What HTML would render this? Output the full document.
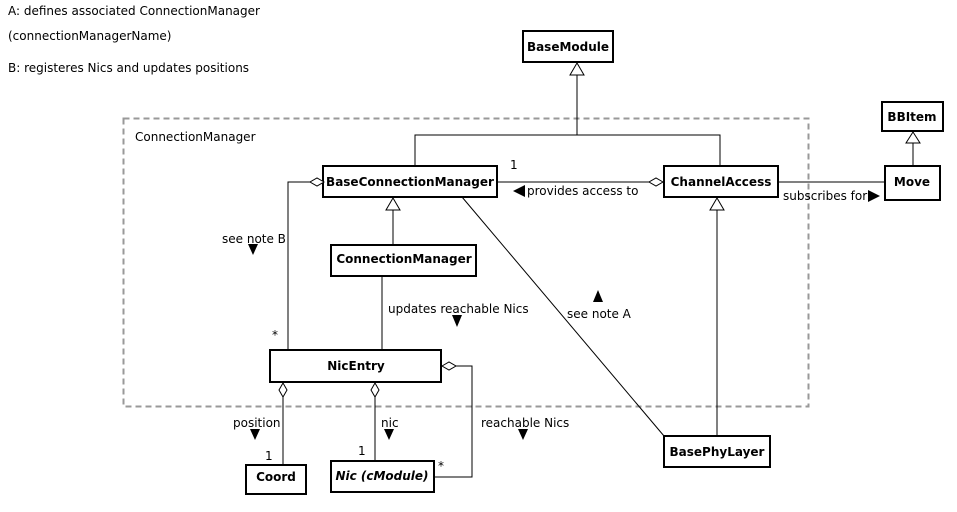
<!DOCTYPE html>
<html><head><style>
body{margin:0;background:#fff;}
svg{display:block;font-family:"DejaVu Sans","Liberation Sans",sans-serif;}
.b{font-weight:bold;font-size:12px;}
.t{font-size:12px;}
</style></head><body>
<svg width="957" height="512" viewBox="0 0 957 512">
<text class="t" x="8" y="15">A: defines associated ConnectionManager</text>
<text class="t" x="8" y="40">(connectionManagerName)</text>
<text class="t" x="8" y="72">B: registeres Nics and updates positions</text>
<rect x="123.5" y="118.5" width="685" height="288" fill="none" stroke="#999" stroke-width="2" stroke-dasharray="6,4"/>
<text class="t" x="135" y="141">ConnectionManager</text>
<g stroke="#000" fill="none" stroke-width="1">
<polyline points="577,62 577,135"/>
<polyline points="415,166 415,135 720,135 720,166"/>
<polyline points="497,182 664,182"/>
<polyline points="778,182 885,182"/>
<polyline points="913,131 913,166"/>
<polyline points="323,182 288,182 288,350"/>
<polyline points="393,197 393,245"/>
<polyline points="382,276 382,350"/>
<polyline points="462,197 664,436"/>
<polyline points="717,197 717,436"/>
<polyline points="283,382 283,465"/>
<polyline points="375,382 375,461"/>
<polyline points="441,366 472,366 472,477 434,477"/>
</g>
<g fill="#fff" stroke="#000" stroke-width="2">
<rect x="523" y="31" width="90" height="31"/>
<rect x="323" y="166" width="174" height="31"/>
<rect x="664" y="166" width="114" height="31"/>
<rect x="882" y="102" width="61" height="29"/>
<rect x="885" y="166" width="55" height="34"/>
<rect x="331" y="245" width="145" height="31"/>
<rect x="270" y="350" width="171" height="32"/>
<rect x="246" y="465" width="60" height="29"/>
<rect x="331" y="461" width="103" height="31"/>
<rect x="664" y="436" width="106" height="31"/>
</g>
<g fill="#fff" stroke="#000">
<polygon points="577,63 570,75 584,75"/>
<polygon points="393,198 386,210 400,210"/>
<polygon points="717,198 710,210 724,210"/>
<polygon points="913,132 906,143 920,143"/>
<polygon points="663,182 656,178 649,182 656,186"/>
<polygon points="324,182 317,178 310,182 317,186"/>
<polygon points="442,366 449,362 456,366 449,370"/>
<polygon points="283,383 279,390 283,397 287,390"/>
<polygon points="375,383 371,390 375,397 379,390"/>
</g>
<text class="b" x="568" y="51" text-anchor="middle">BaseModule</text>
<text class="b" x="410" y="186" text-anchor="middle">BaseConnectionManager</text>
<text class="b" x="721" y="186" text-anchor="middle">ChannelAccess</text>
<text class="b" x="912" y="121" text-anchor="middle">BBItem</text>
<text class="b" x="912" y="186" text-anchor="middle">Move</text>
<text class="b" x="404" y="263" text-anchor="middle">ConnectionManager</text>
<text class="b" x="356" y="370" text-anchor="middle">NicEntry</text>
<text class="b" x="276" y="481" text-anchor="middle">Coord</text>
<text class="b" x="382" y="480" text-anchor="middle" font-style="italic">Nic (cModule)</text>
<text class="b" x="717" y="456" text-anchor="middle">BasePhyLayer</text>
<g>
<text x="510" y="169" class="t">1</text>
<polygon points="513,191 525,185 525,197"/>
<text x="527" y="195" class="t">provides access to</text>
<text x="783" y="200" class="t">subscribes for</text>
<polygon points="880,196 868,190 868,202"/>
<text x="222" y="243" class="t">see note B</text>
<polygon points="248,244 258,244 253,255"/>
<text x="272" y="339" class="t">*</text>
<text x="388" y="313" class="t">updates reachable Nics</text>
<polygon points="452,315 462,315 457,327"/>
<polygon points="598,290 593,302 603,302"/>
<text x="567" y="318" class="t">see note A</text>
<text x="233" y="427" class="t">position</text>
<polygon points="250,429 260,429 255,440"/>
<text x="265" y="460" class="t">1</text>
<text x="381" y="427" class="t">nic</text>
<polygon points="384,429 394,429 389,440"/>
<text x="358" y="455" class="t">1</text>
<text x="481" y="427" class="t">reachable Nics</text>
<polygon points="518,429 528,429 523,440"/>
<text x="438" y="470" class="t">*</text>
</g>
</svg>
</body></html>
